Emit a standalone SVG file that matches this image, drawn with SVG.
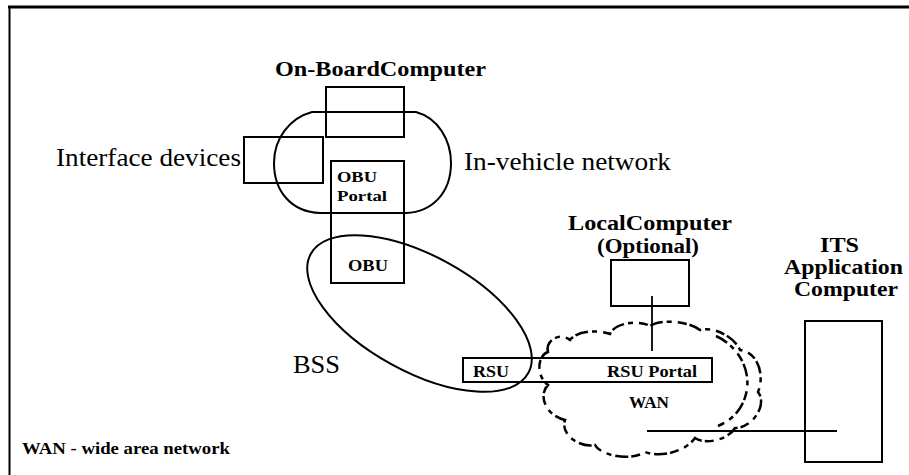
<svg xmlns="http://www.w3.org/2000/svg" width="909" height="475" viewBox="0 0 909 475" font-family="'Liberation Serif', 'DejaVu Serif', serif">
<style>
.box{fill:none;stroke:#000;stroke-width:2}
.shape{fill:none;stroke:#000;stroke-width:2}
text{font-family:"Liberation Serif","DejaVu Serif",serif;fill:#000}
.b{font-weight:bold}
.cloud{fill:none;stroke:#000;stroke-width:2.5;stroke-dasharray:13 4 5 6 9 3}
.conn{fill:none;stroke:#000;stroke-width:1.8}
</style>
<rect x="0" y="0" width="909" height="475" fill="#fff"/>
<g id="frame">
<line x1="8" y1="7" x2="909" y2="7" stroke="#000" stroke-width="3"/>
<line x1="9.5" y1="7" x2="9.5" y2="475" stroke="#000" stroke-width="2"/>
</g>
<g id="in-vehicle-network">
<path class="shape" d="M312,112 L416,112 C438,118 451,140 451,163 C451,193 432,212 406,213 L320,213 C292,212 274,192 274,163 C274,138 290,118 312,112 Z"/>
<text x="464" y="170" font-size="25" textLength="207" lengthAdjust="spacingAndGlyphs">In-vehicle network</text>
</g>
<g id="on-board-computer">
<rect class="box" x="326" y="87" width="78" height="50"/>
<text class="b" x="275" y="76" font-size="22" textLength="211" lengthAdjust="spacingAndGlyphs">On-BoardComputer</text>
</g>
<g id="interface-devices">
<rect class="box" x="244" y="137" width="79" height="46"/>
<text x="56" y="166" font-size="25" textLength="185" lengthAdjust="spacingAndGlyphs">Interface devices</text>
</g>
<g id="obu">
<rect class="box" x="331" y="161" width="73" height="122"/>
<text class="b" x="337" y="182" font-size="15" textLength="40" lengthAdjust="spacingAndGlyphs">OBU</text>
<text class="b" x="337" y="201" font-size="15" textLength="50" lengthAdjust="spacingAndGlyphs">Portal</text>
<text class="b" x="348" y="271" font-size="16" textLength="40" lengthAdjust="spacingAndGlyphs">OBU</text>
</g>
<g id="bss">
<ellipse class="shape" cx="419.5" cy="313.5" rx="124" ry="58" transform="rotate(28.7 419.5 313.5)"/>
<text x="293" y="373" font-size="25" textLength="47" lengthAdjust="spacingAndGlyphs">BSS</text>
</g>
<g id="wan">
<path class="cloud" d="M548,352 C545,340 560,332 570,340 C578,330 598,330 610,334 C615,322 640,320 650,326 C662,318 690,322 700,330 C715,326 735,338 740,350 C758,352 765,375 758,392 C768,405 752,428 735,428 C728,440 705,445 695,438 C685,452 660,458 645,452 C630,462 600,455 595,445 C580,448 560,435 565,420 C545,415 538,395 548,385 C535,375 538,355 548,352 Z"/>
<path class="cloud" d="M716,336 C738,346 752,370 746,394 C742,410 732,420 718,426"/>
<text class="b" x="629" y="408" font-size="16" textLength="40" lengthAdjust="spacingAndGlyphs">WAN</text>
</g>
<g id="rsu">
<rect class="box" x="463" y="358" width="249" height="24"/>
<text class="b" x="473" y="377" font-size="17" textLength="36" lengthAdjust="spacingAndGlyphs">RSU</text>
<text class="b" x="607" y="377" font-size="17" textLength="90" lengthAdjust="spacingAndGlyphs">RSU Portal</text>
</g>
<g id="local-computer">
<rect class="box" x="611" y="260" width="78" height="46"/>
<text class="b" x="568" y="230" font-size="20" textLength="164" lengthAdjust="spacingAndGlyphs">LocalComputer</text>
<text class="b" x="597" y="253" font-size="20" textLength="102" lengthAdjust="spacingAndGlyphs">(Optional)</text>
</g>
<g id="its-application-computer">
<rect class="box" x="805" y="321" width="77" height="141"/>
<text class="b" x="820" y="252" font-size="20" textLength="39" lengthAdjust="spacingAndGlyphs">ITS</text>
<text class="b" x="784" y="274" font-size="20" textLength="119" lengthAdjust="spacingAndGlyphs">Application</text>
<text class="b" x="794" y="296" font-size="20" textLength="104" lengthAdjust="spacingAndGlyphs">Computer</text>
</g>
<g id="connectors">
<line class="conn" x1="652" y1="296" x2="652" y2="351"/>
<line class="conn" x1="647" y1="431" x2="837" y2="431"/>
</g>
<g id="legend">
<text class="b" x="22" y="454" font-size="16" textLength="208" lengthAdjust="spacingAndGlyphs">WAN - wide area network</text>
</g>
</svg>
